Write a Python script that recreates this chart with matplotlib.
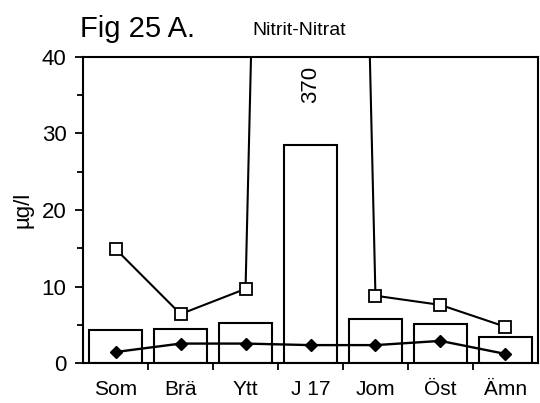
import numpy as np
import matplotlib.pyplot as plt
from matplotlib.ticker import MultipleLocator, FixedLocator

plt.rcParams['font.family'] = ['Liberation Sans', 'DejaVu Sans']

# --- Data ---
stations = ['Som', 'Brä', 'Ytt', 'J 17', 'Jom', 'Öst', 'Ämn']
mean_vals = [4.3, 4.4, 5.2, 28.5, 5.75, 5.1, 3.4]     # bars
max_vals = [14.9, 6.4, 9.7, 370, 8.8, 7.6, 4.75]      # open squares
min_vals = [1.45, 2.55, 2.55, 2.35, 2.35, 2.9, 1.2]   # filled diamonds

x = np.arange(len(stations))

fig = plt.figure(figsize=(5.4, 4.03), dpi=100)
ax = fig.add_axes([0.154, 0.099, 0.842, 0.760])

ax.bar(x, mean_vals, width=0.82, facecolor='white', edgecolor='black', linewidth=1.5, zorder=1)
ax.plot(x, max_vals, color='black', lw=1.5, marker='s', markersize=8,
        markerfacecolor='white', markeredgecolor='black', markeredgewidth=1.3, zorder=3)
ax.plot(x, min_vals, color='black', lw=1.7, marker='D', markersize=6.5,
        markerfacecolor='black', zorder=3)

# value of the max point that goes off the scale
ax.text(x[3], 38.8, '370', rotation=90, ha='center', va='top', fontsize=16)

ax.set_xlim(-0.5, len(stations) - 0.5)
ax.set_ylim(0, 40)

ax.set_xticks(x)
ax.set_xticklabels(stations, fontsize=15)
ax.xaxis.set_minor_locator(FixedLocator(x[:-1] + 0.5))
ax.tick_params(axis='x', which='major', length=0, pad=12)
ax.tick_params(axis='x', which='minor', direction='out', length=5, width=1.3)

ax.yaxis.set_major_locator(MultipleLocator(10))
ax.yaxis.set_minor_locator(MultipleLocator(5))
ax.tick_params(axis='y', which='major', direction='out', length=6, width=1.3, labelsize=16, pad=6)
ax.tick_params(axis='y', which='minor', direction='out', length=4, width=1.3)

for sp in ax.spines.values():
    sp.set_linewidth(1.5)

ax.set_ylabel('µg/l', fontsize=16, labelpad=6)

fig.text(0.148, 0.928, 'Fig 25 A.', fontsize=21, ha='left', va='center')
fig.text(0.468, 0.924, 'Nitrit-Nitrat', fontsize=14, ha='left', va='center')

plt.savefig('out.png', dpi=100)
